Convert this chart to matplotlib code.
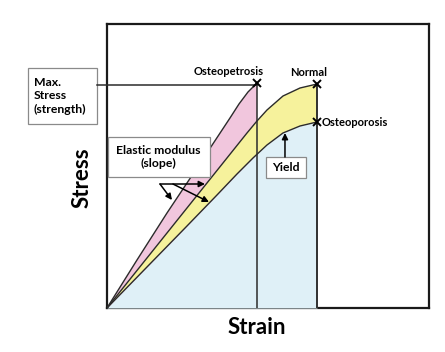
"""
Stress-strain sketch: osteopetrosis vs normal vs osteoporosis bone.
"""

import numpy as np
import matplotlib
matplotlib.use("Agg")
import matplotlib.pyplot as plt
from matplotlib.patches import Rectangle

plt.rcParams.update({
    "font.family": ["Lato", "DejaVu Sans"],
    "font.weight": "bold",
})

# curves (strain, stress) in arbitrary units
petrosis_x = [0, 30, 60, 90, 123, 132, 141, 150]
petrosis_y = [0, 48, 95, 140, 190, 204, 216, 225]

normal_x = [0, 40, 80, 120, 140, 150, 160, 176, 193, 210]
normal_y = [0, 50, 100, 150, 175, 187, 198, 212, 220, 224]

porosis_x = [0, 40, 80, 110, 130, 146, 160, 176, 193, 210]
porosis_y = [0, 41, 82, 113, 134, 150, 163, 175, 182, 186]

curve_labels = ["Osteopetrosis", "Normal", "Osteoporosis"]

PINK = "#f1c6dd"
YELLOW = "#f6f29c"
BLUE = "#dff0f7"
LINE = "#2b2b2b"
BOXEDGE = "#8a8a8a"

fig = plt.figure(figsize=(4.45, 3.52), dpi=100)
ax = fig.add_axes([0.2404, 0.125, 0.7236, 0.8068])
ax.set_xlim(0, 322)
ax.set_ylim(0, 284)

px, py = np.array(petrosis_x), np.array(petrosis_y)
nx, ny = np.array(normal_x), np.array(normal_y)
ox, oy = np.array(porosis_x), np.array(porosis_y)

# fills: pink under osteopetrosis, yellow between normal and osteoporosis, blue below
ax.fill(np.r_[px, px[-1]], np.r_[py, 0], color=PINK, lw=0, zorder=1)
ax.fill(np.r_[nx, ox[::-1]], np.r_[ny, oy[::-1]], color=YELLOW, lw=0, zorder=2)
ax.fill_between(ox, 0, oy, color=BLUE, lw=0, zorder=3)

# outlines
for x, y in [(px, py), (nx, ny), (ox, oy)]:
    ax.plot(x, y, color=LINE, lw=1.0, zorder=4)
    ax.plot([x[-1], x[-1]], [0, y[-1]], color=LINE, lw=1.1, zorder=4)
ax.plot([nx[-1], nx[-1]], [oy[-1], ny[-1]], color=LINE, lw=1.1, zorder=4)

# failure points
for x, y in [(px, py), (nx, ny), (ox, oy)]:
    ax.plot(x[-1], y[-1], marker="x", ms=6, mew=1.4, color="black", zorder=6)

ax.text(px[-1] - 28, py[-1] + 6, curve_labels[0], ha="center", va="bottom", fontsize=8)
ax.text(nx[-1] - 8, ny[-1] + 6, curve_labels[1], ha="center", va="bottom", fontsize=8)
ax.text(ox[-1] + 5, oy[-1], curve_labels[2], ha="left", va="center", fontsize=8)

# Max stress box and line to the osteopetrosis peak
ax.add_patch(Rectangle((-79, 184), 69, 56, fill=False, ec=BOXEDGE, lw=0.9,
                       clip_on=False, zorder=5))
ax.text(-73, 212, "Max.\nStress\n(strength)", ha="left", va="center",
        fontsize=8.8, linespacing=1.25)
ax.plot([-10, px[-1]], [py[-1] - 2, py[-1] - 2], color=LINE, lw=1.1,
        clip_on=False, zorder=5)

# Elastic modulus box and arrows
ax.add_patch(Rectangle((1, 131), 102, 40, fc="white", ec=BOXEDGE, lw=0.9, zorder=5))
ax.text(51, 151, "Elastic modulus\n(slope)", ha="center", va="center",
        fontsize=8.8, linespacing=1.3, zorder=6)
arrow = dict(arrowstyle="-|>", color="black", lw=1.1, mutation_scale=9,
             shrinkA=0, shrinkB=0)
ax.annotate("", xy=(98, 124), xytext=(53, 124), arrowprops=arrow, zorder=7)
ax.annotate("", xy=(65, 108), xytext=(53, 124), arrowprops=arrow, zorder=7)
ax.annotate("", xy=(102, 106), xytext=(66, 124), arrowprops=arrow, zorder=7)

# Yield box and arrow
ax.add_patch(Rectangle((159, 130), 40, 21, fc="white", ec=BOXEDGE, lw=0.9, zorder=5))
ax.text(179, 140.5, "Yield", ha="center", va="center", fontsize=8.8, zorder=6)
ax.annotate("", xy=(178, 175), xytext=(178, 151), arrowprops=arrow, zorder=7)

ax.set_xticks([])
ax.set_yticks([])
for s in ax.spines.values():
    s.set_linewidth(1.6)
    s.set_color("#1a1a1a")

ax.set_xlabel("Strain", fontsize=16, fontweight="bold")
ax.set_ylabel("Stress", fontsize=16, fontweight="bold")
ax.xaxis.set_label_coords(0.466, -0.03)
ax.yaxis.set_label_coords(-0.045, 0.46)

fig.savefig("out.png", dpi=100, facecolor="white")
